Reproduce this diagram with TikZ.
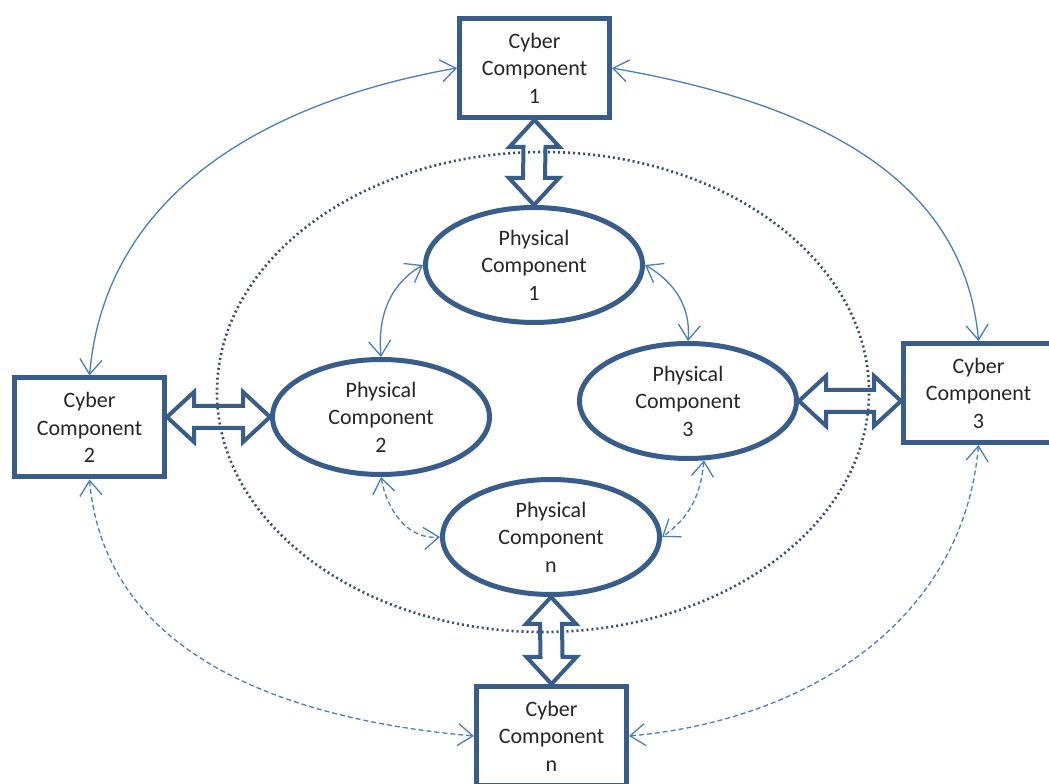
\documentclass[tikz,border=0pt]{standalone}
\usepackage{fontspec}
\setmainfont{Carlito}
\usetikzlibrary{arrows.meta,calc,shapes.geometric}
\definecolor{bord}{HTML}{385D8A}
\definecolor{conn}{HTML}{4A7EBB}
\definecolor{dots}{HTML}{3A4E6E}
\definecolor{txt}{HTML}{262626}
\newcommand{\vblock}[2]{%
  \draw[blk] (#1) -- ++(25,-27) -- ++(-14,0) -- ($(#2)+(11,27)$) -- ++(14,0) -- (#2)
    -- ++(-25,27) -- ++(14,0) -- ($(#1)+(-11,-27)$) -- ++(-14,0) -- cycle;}
\newcommand{\hblock}[2]{%
  \draw[blk] (#1) -- ++(27,25) -- ++(0,-14) -- ($(#2)+(-27,11)$) -- ++(0,14) -- (#2)
    -- ++(-27,-25) -- ++(0,14) -- ($(#1)+(27,-11)$) -- ++(0,-14) -- cycle;}
\begin{document}
\begin{tikzpicture}[x=1pt,y=1pt,
  lbl/.style={align=center, text=txt, font=\fontsize{22}{27.5}\selectfont, inner sep=0pt},
  cyber/.style={lbl, draw=bord, line width=5pt, fill=white, minimum width=150pt, minimum height=99pt},
  phys/.style={lbl, ellipse, draw=bord, line width=5pt, fill=white, minimum width=217pt, minimum height=115pt},
  link/.style={draw=conn, line width=1.3pt, {Straight Barb[length=15pt,width=22pt]}-{Straight Barb[length=15pt,width=22pt]}},
  dlink/.style={link, dash pattern=on 5pt off 3pt},
  blk/.style={draw=bord, line width=4pt, line join=miter},
  ring/.style={ellipse, draw=dots, line width=2.6pt, dash pattern=on 2pt off 3pt, inner sep=0pt}
]
\useasboundingbox (0,0) rectangle (1049,784);
\fill[white] (0,0) rectangle (1049,784);

\node[ring, minimum width=652pt, minimum height=480pt] (ringe) at (543,392) {};

\node[cyber] (c1) at (534.5,716) {Cyber\\Component\\1};
\node[cyber] (c2) at (89.5,356.5) {Cyber\\Component\\2};
\node[cyber] (c3) at (978.5,391) {Cyber\\Component\\3};
\node[cyber] (cn) at (551.5,48) {Cyber\\Component\\n};

\node[phys] (p1) at (534,519) {Physical\\Component\\1};
\node[phys] (p2) at (381,367) {Physical\\Component\\2};
\node[phys] (p3) at (688,383) {Physical\\Component\\3};
\node[phys] (pn) at (551,247) {Physical\\Component\\n};

% outer cyber links
\draw[link] (c1.west) to[out=190,in=85] (c2.north);
\draw[link] (c1.east) to[out=-10,in=95] (c3.north);
\draw[dlink] (c2.south) to[out=-85,in=175] (cn.west);
\draw[dlink] (c3.south) to[out=-95,in=5] (cn.east);

% physical links
\draw[link] (p1.west) to[out=210,in=95] (p2.north);
\draw[link] (p1.east) to[out=-30,in=85] (p3.north);
\draw[dlink] (p2.south) to[out=-80,in=185] (pn.west);
\draw[dlink] (p3.-75) to[out=-95,in=35] (pn.east);

% block double arrows
\coordinate (h1a) at (c2.east |- p2.west);
\coordinate (h2b) at (c3.west |- p3.east);
\vblock{c1.south}{p1.north}
\vblock{pn.south}{cn.north}
\hblock{h1a}{p2.west}
\hblock{p3.east}{h2b}
\end{tikzpicture}
\end{document}
